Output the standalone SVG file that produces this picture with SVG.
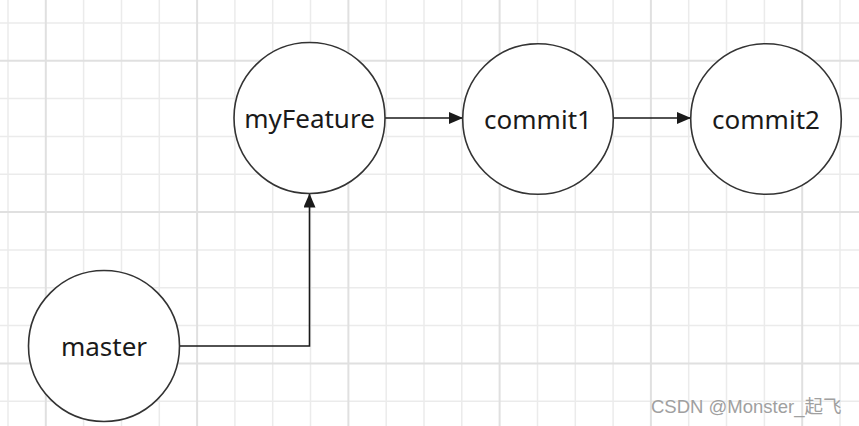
<svg xmlns="http://www.w3.org/2000/svg" width="859" height="426" viewBox="0 0 859 426">
<defs>
<style>
.minor{stroke:#ebebeb;stroke-width:1.5}
.major{stroke:#e0e0e0;stroke-width:2}
.node circle{fill:#fff;stroke:#333;stroke-width:1.6}
.node text{font-family:"Noto Sans","Open Sans",sans-serif;font-size:26px;fill:#1a1a1a;text-anchor:middle;dominant-baseline:central}
.edge{fill:none;stroke:#1a1a1a;stroke-width:1.6}
.wm{font-family:"Liberation Sans","Noto Sans CJK SC",sans-serif;font-size:18.5px;fill:#a0a0a0}
</style>
<marker id="arr" viewBox="0 0 14 12" refX="14" refY="6" markerWidth="14" markerHeight="12" markerUnits="userSpaceOnUse" orient="auto">
<path d="M0,0 L14,6 L0,12 Z" fill="#1a1a1a"/>
</marker>
</defs>
<rect width="859" height="426" fill="#fff"/>
<g id="grid">
<g class="minor">
<line x1="8" y1="0" x2="8" y2="426"/>
<line x1="83.6" y1="0" x2="83.6" y2="426"/>
<line x1="121.5" y1="0" x2="121.5" y2="426"/>
<line x1="159.3" y1="0" x2="159.3" y2="426"/>
<line x1="234.9" y1="0" x2="234.9" y2="426"/>
<line x1="272.7" y1="0" x2="272.7" y2="426"/>
<line x1="310.5" y1="0" x2="310.5" y2="426"/>
<line x1="386.2" y1="0" x2="386.2" y2="426"/>
<line x1="424" y1="0" x2="424" y2="426"/>
<line x1="461.8" y1="0" x2="461.8" y2="426"/>
<line x1="537.5" y1="0" x2="537.5" y2="426"/>
<line x1="575.3" y1="0" x2="575.3" y2="426"/>
<line x1="613.1" y1="0" x2="613.1" y2="426"/>
<line x1="688.7" y1="0" x2="688.7" y2="426"/>
<line x1="726.5" y1="0" x2="726.5" y2="426"/>
<line x1="764.4" y1="0" x2="764.4" y2="426"/>
<line x1="840" y1="0" x2="840" y2="426"/>
<line x1="0" y1="23" x2="859" y2="23"/>
<line x1="0" y1="98.6" x2="859" y2="98.6"/>
<line x1="0" y1="136.5" x2="859" y2="136.5"/>
<line x1="0" y1="174.3" x2="859" y2="174.3"/>
<line x1="0" y1="249.9" x2="859" y2="249.9"/>
<line x1="0" y1="287.7" x2="859" y2="287.7"/>
<line x1="0" y1="325.5" x2="859" y2="325.5"/>
<line x1="0" y1="401.2" x2="859" y2="401.2"/>
</g>
<g class="major">
<line x1="45.8" y1="0" x2="45.8" y2="426"/>
<line x1="197.1" y1="0" x2="197.1" y2="426"/>
<line x1="348.4" y1="0" x2="348.4" y2="426"/>
<line x1="499.6" y1="0" x2="499.6" y2="426"/>
<line x1="650.9" y1="0" x2="650.9" y2="426"/>
<line x1="802.2" y1="0" x2="802.2" y2="426"/>
<line x1="0" y1="60.8" x2="859" y2="60.8"/>
<line x1="0" y1="212.1" x2="859" y2="212.1"/>
<line x1="0" y1="363.4" x2="859" y2="363.4"/>
</g>
</g>
<g id="connectors">
<line class="edge" x1="385" y1="118" x2="463" y2="118" marker-end="url(#arr)"/>
<line class="edge" x1="613.5" y1="118" x2="691" y2="118" marker-end="url(#arr)"/>
<path class="edge" d="M180,346 H309.5 V193.5" marker-end="url(#arr)"/>
</g>
<g id="myFeature" class="node">
<circle cx="309.5" cy="118" r="75.5"/>
<text x="309.5" y="118">myFeature</text>
</g>
<g id="commit1" class="node">
<circle cx="538" cy="119" r="75.3"/>
<text x="538" y="119">commit1</text>
</g>
<g id="commit2" class="node">
<circle cx="766" cy="119" r="75.3"/>
<text x="766" y="119">commit2</text>
</g>
<g id="master" class="node">
<circle cx="104" cy="346" r="75.5"/>
<text x="104" y="346">master</text>
</g>
<text class="wm" x="651" y="413">CSDN @Monster_起飞</text>
</svg>
